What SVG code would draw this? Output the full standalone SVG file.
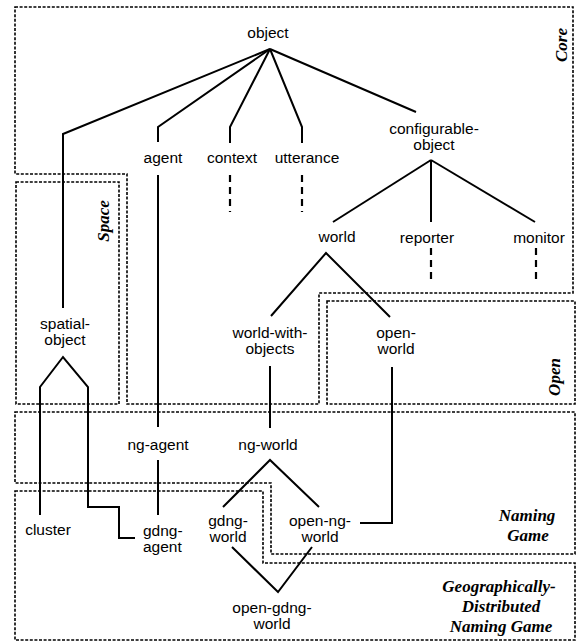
<svg xmlns="http://www.w3.org/2000/svg" width="577" height="643" viewBox="0 0 577 643">
<style>
.n{font-family:"Liberation Sans",Arial,sans-serif;font-size:15.5px;fill:#000;text-anchor:middle}
.r{font-family:"Liberation Serif","Times New Roman",serif;font-size:17px;font-weight:bold;font-style:italic;fill:#000;text-anchor:middle}
.reg{fill:none;stroke:#000;stroke-width:1.6;stroke-dasharray:3 1.6}
.c{fill:none;stroke:#000;stroke-width:2;stroke-linejoin:miter}
.d{fill:none;stroke:#000;stroke-width:2.2;stroke-dasharray:7 5}
</style>
<rect width="577" height="643" fill="#fff"/>
<g id="regions">
<g id="core"><polygon class="reg" points="15,7 573,7 573,293 319,293 319,404 127,404 127,174 15,174"/><text class="r" transform="translate(567,45) rotate(-90)">Core</text></g>
<g id="space"><rect class="reg" x="16" y="182" width="103" height="222"/><text class="r" transform="translate(109,221) rotate(-90)">Space</text></g>
<g id="open"><rect class="reg" x="327" y="301" width="248" height="103"/><text class="r" transform="translate(560,377) rotate(-90)">Open</text></g>
<g id="naming-game"><polygon class="reg" points="15,412 575,412 575,554 271,554 271,483 15,483"/><text class="r" x="527" y="521">Naming</text><text class="r" x="528" y="541">Game</text></g>
<g id="gdng"><polygon class="reg" points="15,491 263,491 263,563 575,563 575,640 15,640"/><text class="r" x="499" y="592">Geographically-</text><text class="r" x="501" y="612">Distributed</text><text class="r" x="501" y="632">Naming Game</text></g>
</g>
<g id="connectors">
<polyline class="c" points="270,49 63,134 63,308"/>
<polyline class="c" points="270,49 158,127 158,142"/>
<polyline class="c" points="270,49 230,127 230,143"/>
<polyline class="c" points="270,49 302,127 302,143"/>
<line class="c" x1="270" y1="49" x2="416" y2="112"/>
<line class="d" x1="230" y1="175" x2="230" y2="212"/>
<line class="d" x1="302" y1="175" x2="302" y2="212"/>
<line class="c" x1="158" y1="175" x2="158" y2="427"/>
<line class="c" x1="431" y1="160" x2="333" y2="222"/>
<line class="c" x1="431" y1="160" x2="431" y2="222"/>
<line class="c" x1="431" y1="160" x2="535" y2="222"/>
<line class="d" x1="431" y1="248" x2="431" y2="282"/>
<line class="d" x1="536" y1="248" x2="536" y2="282"/>
<polyline class="c" points="271,316 326,253 390,317"/>
<line class="c" x1="270" y1="366" x2="270" y2="428"/>
<polyline class="c" points="392,367 392,523 360,523"/>
<polyline class="c" points="40,515 40,387 63,357 88,387 88,507 119,507 119,538 135,538"/>
<line class="c" x1="158" y1="460" x2="158" y2="515"/>
<polyline class="c" points="223,507 270,460 319,507"/>
<polyline class="c" points="232,547 278,592 312,547"/>
</g>
<g id="object"><text class="n" x="268" y="38">object</text></g>
<g id="agent"><text class="n" x="163" y="163">agent</text></g>
<g id="context"><text class="n" x="232" y="163">context</text></g>
<g id="utterance"><text class="n" x="307" y="163">utterance</text></g>
<g id="configurable-object"><text class="n" x="434" y="134">configurable-</text><text class="n" x="434" y="150">object</text></g>
<g id="world"><text class="n" x="337" y="242">world</text></g>
<g id="reporter"><text class="n" x="427" y="243">reporter</text></g>
<g id="monitor"><text class="n" x="539" y="243">monitor</text></g>
<g id="spatial-object"><text class="n" x="65" y="329">spatial-</text><text class="n" x="65" y="345">object</text></g>
<g id="world-with-objects"><text class="n" x="270" y="338">world-with-</text><text class="n" x="270" y="354">objects</text></g>
<g id="open-world"><text class="n" x="396" y="338">open-</text><text class="n" x="396" y="354">world</text></g>
<g id="ng-agent"><text class="n" x="158" y="450">ng-agent</text></g>
<g id="ng-world"><text class="n" x="268" y="450">ng-world</text></g>
<g id="cluster"><text class="n" x="48" y="535">cluster</text></g>
<g id="gdng-agent"><text class="n" x="143" y="536" style="text-anchor:start">gdng-</text><text class="n" x="143" y="552" style="text-anchor:start">agent</text></g>
<g id="gdng-world"><text class="n" x="228" y="526">gdng-</text><text class="n" x="228" y="542">world</text></g>
<g id="open-ng-world"><text class="n" x="320" y="526">open-ng-</text><text class="n" x="320" y="542">world</text></g>
<g id="open-gdng-world"><text class="n" x="272" y="613">open-gdng-</text><text class="n" x="272" y="629">world</text></g>
</svg>
